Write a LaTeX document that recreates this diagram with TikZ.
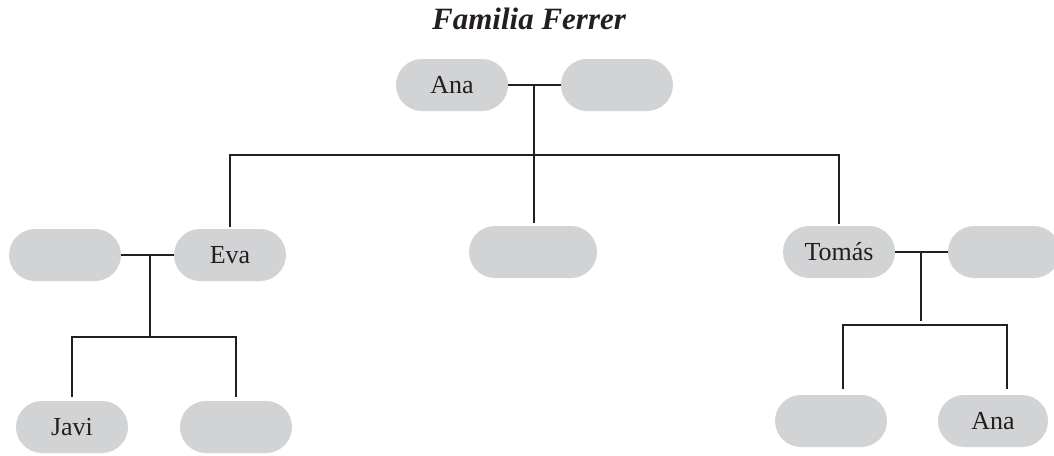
\documentclass[tikz,border=0pt]{standalone}
\usepackage{fontspec}
\setmainfont{Liberation Serif}
\usetikzlibrary{calc}
\definecolor{ink}{RGB}{35,31,32}
\definecolor{boxgray}{RGB}{209,211,212}
\begin{document}
\begin{tikzpicture}[x=1pt,y=-1pt,
  person/.style={fill=boxgray, rounded corners=26pt, minimum width=112pt, minimum height=52pt, inner sep=0pt, font=\fontsize{26}{30}\selectfont, text=ink},
  link/.style={draw=ink, line width=2.4pt},
  title/.style={font=\fontsize{31}{36}\selectfont\bfseries\itshape, text=ink}]
\useasboundingbox (0,0) rectangle (1054,455);
\node[title, anchor=base] (title) at (529,29) {Familia Ferrer};
% generation 1
\node[person] (ana1) at (452,85) {Ana};
\node[person] (sp1) at (617,85) {};
% generation 2
\node[person] (sp2) at (65,255) {};
\node[person] (eva) at (230,255) {Eva};
\node[person, minimum width=128pt] (mid) at (533,252) {};
\node[person] (tomas) at (839,252) {Tomás};
\node[person] (sp3) at (1004,252) {};
% generation 3
\node[person] (javi) at (72,427) {Javi};
\node[person] (c2) at (236,427) {};
\node[person] (c3) at (831,421) {};
\node[person, minimum width=110pt] (ana2) at (993,421) {Ana};
% connectors, first family
\draw[link] (ana1.east) -- (sp1.west);
\coordinate (m1) at (534,85);
\coordinate (b1) at (534,155);
\draw[link, shorten >=3pt] (m1) -- (m1 |- mid.north);
\draw[link, shorten <=2pt, shorten >=2pt] (eva.north) |- (b1) -| (tomas.north);
% Eva's family
\draw[link] (sp2.east) -- (eva.west);
\coordinate (m2) at (150,255);
\coordinate (b2) at (150,337);
\draw[link] (m2) -- (b2);
\draw[link, shorten <=4pt, shorten >=4pt] (javi.north) |- (b2) -| (c2.north);
% Tomás's family
\draw[link] (tomas.east) -- (sp3.west);
\coordinate (m3) at (921,252);
\coordinate (b3) at (921,325);
\draw[link, shorten >=4pt] (m3) -- (b3);
\coordinate (t3) at ($(c3.north)+(12,0)$);
\coordinate (t4) at ($(ana2.north)+(14,0)$);
\draw[link, shorten <=6pt, shorten >=6pt] (t3) |- (b3) -| (t4);
\end{tikzpicture}
\end{document}
